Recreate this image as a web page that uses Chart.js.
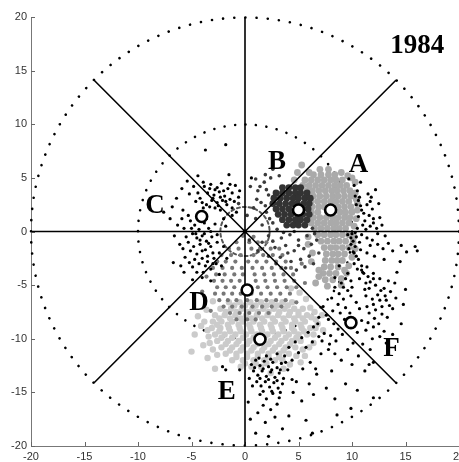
<!DOCTYPE html>
<html>
<head>
<meta charset="utf-8">
<script src="https://cdn.jsdelivr.net/npm/chart.js@4.4.0/dist/chart.umd.min.js"></script>
<style>
html, body { margin: 0; padding: 0; background: #fff; }
</style>
</head>
<body>
<canvas id="graph" width="459" height="462"></canvas>
<script>
// tick labels
const xTicks = [-20, -15, -10, -5, 0, 5, 10, 15, 20];
const yTicks = [-20, -15, -10, -5, 0, 5, 10, 15, 20];

// dotted reference rings and the sector lines
const ringRadii = [2.3, 10, 20];
const ringDots = [26, 64, 120];
const spokes = [[-20, 0, 20, 0], [0, -20, 0, 20], [-14.1, 14.1, 14.1, -14.1], [-14.1, -14.1, 14.1, 14.1]];

// text labels
const labelText = ['1984', 'A', 'B', 'C', 'D', 'E', 'F'];
const labelX = [16.1, 10.6, 3.0, -8.4, -4.3, -1.7, 13.7];
const labelY = [17.3, 6.2, 6.5, 2.4, -6.7, -15.0, -11.0];

// cluster centres (open circles)
const centroids = [[8.0, 2.0], [5.0, 2.0], [-4.05, 1.4], [0.2, -5.45], [1.4, -10.05], [9.9, -8.5]];

// black points, cluster C
const clusterC = [
  [-3.8,4.2],[-3.2,4.4],[-2.6,4.1],[-2.2,4.5],[-1.6,4.0],[-1.2,3.6],[-3.5,3.6],[-2.9,3.4],[-2.4,3.7],[-1.9,3.3],
  [-1.4,3.0],[-3.1,2.9],[-2.6,2.7],[-2.1,2.9],[-1.7,2.5],[-3.6,2.5],[-4.2,3.1],[-4.6,2.8],[-2.8,2.2],[-0.9,4.3],
  [-0.5,3.8],[-1.0,2.8],[-2.3,2.0],[-3.9,2.2],
  [-3.3,4.0],[-2.8,3.9],[-2.0,3.8],[-1.4,4.4],[-3.0,3.1],[-2.3,3.2],[-1.8,2.8],[-2.5,2.4],[-3.3,2.3],[-4.0,2.7],
  [-1.2,2.2],[-0.6,3.2],[-4.4,3.6],[-3.9,4.6],
  [-5.1,1.0],[-4.7,0.6],[-4.3,0.2],[-3.8,0.8],[-3.4,0.3],[-4.9,-0.2],[-4.5,-0.6],[-4.0,-0.4],[-3.6,-0.9],[-3.1,-0.5],
  [-5.3,-1.0],[-4.8,-1.4],[-4.2,-1.2],[-3.7,-1.7],[-3.2,-1.4],[-4.5,-2.1],[-4.0,-2.5],[-3.5,-2.3],[-3.0,-2.0],[-4.3,-3.0],
  [-3.7,-3.2],[-3.2,-3.5],[-2.7,-3.0],[-5.6,-2.4],[-2.6,-1.0],[-2.8,0.7],[-5.7,0.3],[-6.1,-1.2],
  [-5.0,0.3],[-4.6,-0.2],[-4.2,-0.8],[-3.8,-0.2],[-3.4,-1.1],[-5.1,-1.8],[-4.7,-2.6],[-4.0,-1.8],[-3.5,-2.8],[-3.0,-3.0],
  [-4.9,-3.3],[-3.9,-3.8],[-2.9,-2.5],[-3.6,1.2],[-2.6,-0.3],[-5.5,-0.5],[-4.3,1.1],[-5.3,1.5],[-2.4,-2.0],[-2.2,-3.2],
  [-4.5,-3.8],[-3.2,0.0],
  [-5.8,-1.6],[-6.3,0.6],[-5.9,1.2],[-6.0,-3.2],[-5.2,-2.9],[-4.0,-4.3],[-3.2,-4.6],[-2.0,-1.4],[-1.8,0.5],[-0.8,1.8],
  [-6.8,2.3],[-5.2,3.5],[-5.9,4.0],[-4.8,4.2],
  [-6.4,3.1],[-7.0,1.2],[-6.6,-0.4],[-6.7,-2.9],[-5.7,-3.8],[-4.9,-4.5],[-2.4,-4.0],[-1.7,-2.5],[-2.0,1.2],[-1.2,1.5],
  [-5.4,4.7],[-4.4,5.2],[-7.6,1.8],[-5.8,2.0],[-1.5,5.3],[0.6,5.0],[-3.7,7.6],[-1.8,8.1]
];

// black points, cluster F
const clusterF = [
  [9.6,-0.3],[9.9,-0.6],[10.1,-0.9],[10.4,-0.5],[9.9,-1.2],[10.3,-1.4],[9.7,-1.6],[10.7,-1.0],[10.2,-2.0],[10.6,-2.6],
  [10.9,-3.2],[11.1,-3.9],[10.7,-4.4],[11.3,-4.8],[10.5,0.3],[11.0,0.6],[10.0,-0.2],[10.3,-0.1],
  [10.2,4.3],[10.5,3.8],[10.7,3.2],[10.4,2.5],[10.9,2.0],[10.6,1.4],[11.2,1.0],[11.5,3.5],[11.7,2.8],[11.9,2.1],
  [11.6,1.5],[12.0,0.8],[12.3,0.3],[9.7,4.9],[10.8,4.6],[12.2,3.9],[12.6,1.3],[11.3,0.2],
  [10.3,3.3],[10.6,2.9],[10.8,2.4],[11.1,1.7],[11.4,2.5],[11.8,3.2],[12.0,1.2],[11.7,0.5],[10.9,-0.3],[11.4,-0.6],
  [11.7,-1.3],[12.4,-0.2],[12.8,0.6],[12.5,2.6],
  [12.4,-1.2],[12.9,-1.6],[13.4,-1.1],[13.8,-1.8],[14.6,-1.3],[15.1,-1.9],[15.9,-1.4],[16.1,-1.8],[13.1,-0.4],[11.9,-0.8],
  [11.0,-3.8],[11.5,-4.2],[12.0,-3.9],[11.7,-4.7],[12.2,-5.0],[11.2,-5.4],[12.6,-4.4],[13.0,-5.3],[12.4,-5.9],[11.9,-6.3],
  [11.3,-6.0],[13.2,-6.4],[13.6,-5.6],[14.0,-4.8],[14.2,-3.8],[12.8,-7.0],[12.2,-7.3],[11.6,-7.6],[13.8,-7.2],[13.3,-8.0],
  [12.5,-8.6],[12.0,-8.9],[11.3,-9.2],[10.9,-8.3],[13.0,-9.3],[8.4,-5.2],[8.8,-5.8],[9.2,-6.3],[8.7,-6.8],[9.6,-5.5],
  [9.9,-6.0],[9.4,-7.1],[9.8,-7.6],[8.2,-7.4],[7.8,-8.2],[8.3,-8.6],[8.7,-9.1],[9.1,-9.6],[8.0,-9.7],[8.5,-10.2],
  [8.8,-3.2],[8.4,-4.3],[10.2,-3.0],[9.6,-3.9],[7.3,-7.0],[6.8,-8.6],[7.4,-9.5],[10.5,-9.4],[10.1,-10.4],[11.0,-10.5],
  [11.7,-11.0],[10.6,-11.6],[12.0,-12.2],[11.2,-13.0],[13.2,-10.4],
  [10.1,-1.9],[10.4,-2.3],[10.8,-1.7],[10.9,-3.6],[11.4,-3.3],[10.5,-3.5],[11.6,-5.3],[12.0,-4.4],[12.7,-5.5],[13.4,-4.6],
  [13.1,-6.0],[12.0,-6.8],[11.4,-7.0],[12.6,-6.4],[13.5,-6.9],[14.1,-6.2],[12.1,-8.1],[11.5,-8.5],[12.8,-7.7],[9.0,-4.8],
  [9.4,-4.4],[9.9,-4.6],[10.0,-5.2],[9.2,-5.2],[8.9,-7.6],[9.3,-8.2],[10.2,-8.4],[10.7,-7.2],[10.4,-6.6],[8.1,-6.2],
  [7.6,-7.8],[7.2,-10.2],[7.9,-10.5],[8.4,-11.4],[9.6,-11.0],[10.0,-12.4],[11.6,-12.4],[11.9,-10.0],[12.6,-9.8],[13.8,-9.6],
  [14.6,-8.6],[14.8,-6.8],[15.0,-5.4],[14.5,-2.8],[13.0,-2.6],[12.1,-2.3],[11.4,-2.0],[6.6,-12.8],[4.8,-14.0],[6.0,-14.2],
  [4.1,-10.8],[4.7,-10.3],[5.3,-9.9],[5.9,-9.4],[6.4,-8.9],[6.9,-8.0],[5.0,-11.3],[5.7,-10.8],[6.3,-10.3],[6.9,-9.8],
  [3.7,-11.6],[4.4,-12.0],[6.1,-12.2],[7.1,-11.4],[7.8,-11.0],[5.4,-12.8],[6.7,-13.3],[9.0,-12.0],[8.1,-13.0],
  [0.6,-12.4],[1.0,-12.0],[1.4,-12.5],[1.8,-12.1],[2.2,-12.6],[2.6,-12.2],[3.0,-12.7],[3.4,-12.3],[0.8,-13.0],[1.2,-13.4],
  [1.6,-13.0],[2.0,-13.5],[2.4,-13.1],[2.8,-13.6],[3.2,-13.2],[3.6,-13.7],[1.1,-14.0],[1.5,-14.4],[1.9,-14.0],[2.3,-14.5],
  [2.7,-14.1],[3.1,-14.6],[3.5,-14.2],[0.4,-13.7],[4.0,-12.9],[2.0,-11.6],[3.0,-11.4],[4.4,-13.8],
  [0.9,-12.7],[1.7,-12.8],[2.5,-12.9],[3.3,-12.9],[1.4,-13.7],[2.2,-13.8],[3.0,-13.9],[1.3,-11.8],[2.4,-11.9],[3.8,-12.2],
  [0.7,-14.4],[1.7,-14.9],[2.5,-14.9],[3.3,-15.0],
  [1.4,-15.2],[2.0,-15.6],[2.6,-15.1],[3.2,-15.5],[1.7,-16.2],[2.4,-16.6],[3.0,-16.1],[1.2,-16.9],[2.8,-17.3],[1.9,-17.8],
  [1.0,-18.8],[2.2,-19.1],[4.5,-15.0],[5.3,-15.8],[4.1,-17.2],[6.4,-15.2],[7.6,-14.6],[8.4,-15.6],[5.7,-17.6],[6.3,-18.8],
  [9.4,-14.2],[10.5,-14.8],[3.5,-18.4],[0.3,-15.9],[0.5,-17.5],[12.0,-15.5],[9.9,-16.5],[8.6,-17.1],
  [-2.1,-12.6],[-1.8,-12.9],[-0.5,-12.9]
];

// dark grey core of cluster B
const clusterB = [
  [3.5,4.1],[4.1,4.1],[4.7,4.1],[5.2,4.1],
  [2.9,3.6],[3.5,3.6],[4.1,3.6],[4.7,3.6],[5.2,3.6],[5.8,3.6],
  [2.7,3.1],[3.3,3.1],[3.9,3.1],[4.5,3.1],[5.0,3.1],[5.6,3.1],[6.1,3.1],
  [2.6,2.6],[3.2,2.6],[3.8,2.6],[4.4,2.6],[4.9,2.6],[5.5,2.6],[6.0,2.6],
  [2.9,2.1],[3.5,2.1],[4.1,2.1],[5.4,2.1],[5.9,2.1],
  [3.1,1.6],[3.7,1.6],[4.3,1.6],[4.9,1.6],[5.4,1.6],[6.0,1.6],
  [3.5,1.1],[4.1,1.1],[4.7,1.1],[5.2,1.1],[5.8,1.1],
  [3.9,0.6],[4.5,0.6],[5.0,0.6],[5.6,0.6]
];

// dark grey spread of cluster B
const clusterBSpread = [
  [0.5,4.2],[1.2,3.8],[1.8,4.6],[2.2,3.4],[1.5,2.7],[0.8,2.2],[2.4,5.0],[3.2,5.2],[1.0,1.2],[2.0,1.8],
  [2.6,0.8],[3.0,0.2],[2.2,-0.4],[3.4,-0.6],[4.2,-0.3],[5.0,-0.8],[5.8,-0.4],[6.3,0.3],[1.6,-1.0],[2.8,-1.5],
  [3.8,-1.3],[4.6,-1.8],[5.5,-1.6],[6.2,-1.2],[2.2,-2.3],[3.3,-2.4],[4.3,-2.8],[5.2,-2.6],[6.0,-2.3],[3.8,-3.4],
  [4.8,-3.6],[6.4,-3.0],[0.4,-0.8],[1.2,-1.8],[-0.6,2.6],[0.2,1.5],[6.7,-0.8],[6.9,-2.0],[2.6,5.8],
  [1.4,4.2],[2.0,3.9],[1.1,3.0],[1.9,2.4],[2.3,1.2],[1.6,0.6],[3.6,-0.1],[4.6,0.0],[2.6,-0.9],[4.0,-2.0],
  [5.0,-1.3],[2.9,-3.0],[5.6,-3.3],[6.5,-0.2],[1.0,4.9],[1.9,5.3]
];

// light grey, cluster A
const clusterA = [
  [6.4,5.3],[7.1,5.3],[7.8,5.3],[8.4,5.3],
  [5.6,4.8],[6.2,4.8],[6.8,4.8],[7.4,4.8],[8.0,4.8],[8.5,4.8],[9.1,4.8],
  [5.4,4.3],[6.0,4.3],[6.6,4.3],[7.2,4.3],[7.8,4.3],[8.4,4.3],[8.9,4.3],[9.5,4.3],
  [6.3,3.8],[6.9,3.8],[7.5,3.8],[8.1,3.8],[8.6,3.8],[9.2,3.8],[9.8,3.8],
  [6.4,3.3],[7.0,3.3],[7.6,3.3],[8.2,3.3],[8.7,3.3],[9.3,3.3],[9.9,3.3],
  [6.2,2.8],[6.8,2.8],[7.4,2.8],[8.0,2.8],[8.5,2.8],[9.1,2.8],[9.7,2.8],
  [6.3,2.3],[6.9,2.3],[7.4,2.3],[8.7,2.3],[9.3,2.3],[9.9,2.3],
  [6.2,1.8],[6.8,1.8],[8.9,1.8],[9.4,1.8],[10.0,1.8],
  [6.4,1.3],[7.0,1.3],[7.6,1.3],[8.2,1.3],[8.7,1.3],[9.3,1.3],[9.8,1.3],
  [6.2,0.8],[6.8,0.8],[7.4,0.8],[8.0,0.8],[8.5,0.8],[9.1,0.8],[9.7,0.8],
  [6.5,0.3],[7.1,0.3],[7.7,0.3],[8.3,0.3],[8.8,0.3],[9.4,0.3],
  [6.8,-0.3],[7.4,-0.3],[8.0,-0.3],[8.5,-0.3],[9.1,-0.3],[9.7,-0.3],
  [7.1,-0.9],[7.7,-0.9],[8.3,-0.9],[8.8,-0.9],[9.4,-0.9],
  [7.4,-1.5],[8.0,-1.5],[8.5,-1.5],[9.1,-1.5],[9.7,-1.5],
  [7.6,-2.1],[8.2,-2.1],[8.7,-2.1],[9.3,-2.1],
  [7.5,-2.7],[8.1,-2.7],[8.6,-2.7],[9.1,-2.7],
  [7.4,-3.3],[8.0,-3.3],[8.7,-3.3],
  [7.3,-3.9],[7.9,-3.9],[8.5,-3.9],
  [7.5,-4.5],[8.2,-4.5],[7.7,-5.1],
  [10.3,3.6],[10.4,3.0],[10.5,2.0],[10.4,1.2],[10.2,0.5],[10.2,-0.5],[10.3,-1.6],[10.0,-2.4],[9.7,-3.2],[9.3,-3.6],
  [5.8,3.8],[5.7,3.2],[5.8,2.6],[5.9,-1.2],[6.2,-2.8],[6.9,-4.2],[9.0,-4.4],[10.0,5.0],[9.6,5.2],[9.0,5.5],
  [7.0,5.8],[7.8,5.8],[6.0,5.5],
  [4.9,5.5],[5.3,6.2],[4.6,4.8],[10.5,2.6],[10.3,4.6],[5.9,-0.5],[6.3,-2.0],[10.1,-1.0],[6.9,-3.6],[9.5,-3.9],
  [6.6,-4.8],[9.0,-5.0]
];

// medium grey, cluster D
const clusterD = [
  [-0.8,-1.0],[0.4,-1.0],[1.2,-1.0],[2.0,-1.0],
  [-1.5,-1.6],[-0.6,-1.6],[0.6,-1.6],[1.4,-1.6],[2.4,-1.6],[3.2,-1.6],
  [-2.2,-2.2],[-1.3,-2.2],[-0.4,-2.2],[0.8,-2.2],[1.7,-2.2],[2.6,-2.2],[3.5,-2.2],
  [-2.6,-2.8],[-1.8,-2.8],[-0.9,-2.8],[0.3,-2.8],[1.1,-2.8],[2.0,-2.8],[2.9,-2.8],[3.8,-2.8],
  [-3.0,-3.4],[-2.1,-3.4],[-1.2,-3.4],[-0.3,-3.4],[0.7,-3.4],[1.6,-3.4],[2.5,-3.4],[3.4,-3.4],[4.3,-3.4],
  [-2.7,-4.0],[-1.9,-4.0],[-1.0,-4.0],[-0.2,-4.0],[0.9,-4.0],[1.8,-4.0],[2.7,-4.0],[3.6,-4.0],[4.5,-4.0],
  [-2.9,-4.6],[-2.1,-4.6],[-1.3,-4.6],[-0.5,-4.6],[1.0,-4.6],[1.9,-4.6],[2.8,-4.6],[3.7,-4.6],[4.6,-4.6],
  [-2.6,-5.2],[-1.8,-5.2],[-1.0,-5.2],[1.2,-5.2],[2.1,-5.2],[3.0,-5.2],[3.9,-5.2],[4.8,-5.2],
  [-2.8,-5.8],[-2.0,-5.8],[-1.2,-5.8],[-0.4,-5.8],[0.6,-5.8],[1.5,-5.8],[2.4,-5.8],[3.3,-5.8],[4.2,-5.8],
  [-2.4,-6.4],[-1.6,-6.4],[-0.8,-6.4],[0.2,-6.4],[1.1,-6.4],[2.0,-6.4],[2.9,-6.4],[3.8,-6.4],
  [-2.0,-7.0],[-1.2,-7.0],[-0.3,-7.0],[0.7,-7.0],[1.6,-7.0],[2.5,-7.0],[3.4,-7.0],
  [-1.4,-7.6],[-0.5,-7.6],[0.4,-7.6],[1.3,-7.6],[2.2,-7.6],
  [-0.8,-8.2],[0.2,-8.2],[1.0,-8.2],
  [-3.6,-4.2],[-4.0,-5.6],[5.3,-3.0],[5.6,-4.8],[-0.2,-0.4],[0.8,-0.5],[4.8,-6.6],[-3.2,-7.4]
];

// palest grey, cluster E
const clusterE = [
  [-1.5,-6.6],[-0.5,-6.6],[0.5,-6.6],[1.5,-6.6],[2.5,-6.6],[3.5,-6.6],[4.4,-6.6],
  [-2.3,-7.2],[-1.3,-7.2],[-0.3,-7.2],[0.7,-7.2],[1.7,-7.2],[2.7,-7.2],[3.7,-7.2],[4.6,-7.2],[5.4,-7.2],
  [-2.8,-7.8],[-1.9,-7.8],[-0.9,-7.8],[0.1,-7.8],[1.1,-7.8],[2.1,-7.8],[3.1,-7.8],[4.1,-7.8],[5.0,-7.8],[5.8,-7.8],
  [-3.0,-8.4],[-2.2,-8.4],[-1.2,-8.4],[-0.2,-8.4],[0.8,-8.4],[1.8,-8.4],[2.8,-8.4],[3.8,-8.4],[4.7,-8.4],[5.6,-8.4],
  [-3.1,-9.0],[-2.3,-9.0],[-1.5,-9.0],[-0.5,-9.0],[0.5,-9.0],[1.5,-9.0],[2.5,-9.0],[3.5,-9.0],[4.4,-9.0],[5.3,-9.0],[6.1,-9.0],
  [-2.8,-9.6],[-1.9,-9.6],[-0.9,-9.6],[0.1,-9.6],[1.1,-9.6],[2.1,-9.6],[3.1,-9.6],[4.1,-9.6],[5.0,-9.6],[5.8,-9.6],
  [-2.6,-10.2],[-1.6,-10.2],[-0.6,-10.2],[0.4,-10.2],[2.4,-10.2],[3.4,-10.2],[4.4,-10.2],[5.2,-10.2],
  [-2.2,-10.8],[-1.2,-10.8],[-0.2,-10.8],[0.8,-10.8],[1.8,-10.8],[2.8,-10.8],[3.8,-10.8],[4.7,-10.8],
  [-1.8,-11.4],[-0.8,-11.4],[0.2,-11.4],[1.2,-11.4],[2.2,-11.4],[3.2,-11.4],[4.1,-11.4],
  [-1.2,-12.0],[-0.2,-12.0],[0.8,-12.0],[1.8,-12.0],[2.8,-12.0],[3.5,-12.0],
  [-0.4,-12.6],[0.6,-12.6],[1.5,-12.6],
  [-1.0,-6.9],[0.0,-6.9],[1.0,-6.9],[2.0,-6.9],[3.0,-6.9],[4.0,-6.9],
  [-1.8,-7.5],[-0.8,-7.5],[0.2,-7.5],[1.2,-7.5],[2.2,-7.5],[3.2,-7.5],[4.2,-7.5],[5.0,-7.5],
  [-2.4,-8.1],[-1.4,-8.1],[-0.4,-8.1],[0.6,-8.1],[1.6,-8.1],[2.6,-8.1],[3.6,-8.1],[4.6,-8.1],[5.4,-8.1],
  [-2.6,-8.7],[-1.6,-8.7],[-0.6,-8.7],[0.4,-8.7],[1.4,-8.7],[2.4,-8.7],[3.4,-8.7],[4.4,-8.7],[5.2,-8.7],
  [-2.4,-9.3],[-1.4,-9.3],[-0.4,-9.3],[0.6,-9.3],[1.6,-9.3],[2.6,-9.3],[3.6,-9.3],[4.6,-9.3],[5.5,-9.3],
  [-2.2,-9.9],[-1.2,-9.9],[-0.2,-9.9],[0.8,-9.9],[1.8,-9.9],[2.8,-9.9],[3.8,-9.9],[4.8,-9.9],
  [-1.8,-10.5],[-0.8,-10.5],[0.2,-10.5],[1.2,-10.5],[2.2,-10.5],[3.2,-10.5],[4.2,-10.5],
  [-1.4,-11.1],[-0.4,-11.1],[0.6,-11.1],[1.6,-11.1],[2.6,-11.1],[3.6,-11.1],
  [-0.8,-11.7],[0.2,-11.7],[1.2,-11.7],[2.2,-11.7],[3.2,-11.7],
  [0.0,-12.3],[1.0,-12.3],[2.0,-12.3],
  [6.4,-9.6],[6.6,-9.0],[6.8,-8.6],[6.2,-8.0],[6.5,-7.5],[6.0,-10.8],[5.4,-11.0],[4.8,-11.6],[5.2,-12.2],[4.2,-12.4],
  [3.6,-12.8],[7.2,-7.8],[7.3,-9.2],[-3.4,-9.8],[-3.3,-10.4],[-3.0,-11.0],[-2.6,-11.5],[-3.8,-8.4],[-3.5,-9.2],
  [-4.1,-8.8],[-4.7,-9.6],[-3.9,-10.6],[-5.0,-11.2],[-3.5,-11.8],[-3.0,-6.5],[6.6,-8.2],[6.4,-10.4],[5.6,-11.6],[-2.8,-12.8],
  [2.4,-13.2],[4.3,-5.3],[5.1,-5.7],[5.7,-6.3],[6.1,-7.1],[-3.6,-7.3],[-4.4,-7.9]
];

const toPts = arr => arr.map(p => ({ x: p[0], y: p[1] }));

const decor = {
  id: 'decor',
  beforeDatasetsDraw(chart) {
    const { ctx, scales: { x, y }, chartArea } = chart;
    const cx = x.getPixelForValue(0), cy = y.getPixelForValue(0);
    ctx.save();
    ringRadii.forEach((r, i) => {
      const rp = x.getPixelForValue(r) - cx;
      const step = 2 * Math.PI * rp / ringDots[i];
      ctx.beginPath();
      ctx.arc(cx, cy, rp, 0, Math.PI * 2);
      ctx.lineCap = 'round';
      if (i === 0) {
        ctx.strokeStyle = '#555';
        ctx.lineWidth = 2;
        ctx.setLineDash([step * 0.5, step * 0.5]);
      } else {
        ctx.strokeStyle = '#000';
        ctx.lineWidth = 2.6;
        ctx.setLineDash([0.01, step - 0.01]);
      }
      ctx.stroke();
    });
    ctx.setLineDash([]);
    // inward tick marks
    ctx.strokeStyle = '#666';
    ctx.lineWidth = 1;
    ctx.lineCap = 'butt';
    ctx.beginPath();
    xTicks.forEach(v => {
      const px = Math.round(x.getPixelForValue(v)) + 0.5;
      ctx.moveTo(px, chartArea.bottom);
      ctx.lineTo(px, chartArea.bottom - 4);
    });
    yTicks.forEach(v => {
      const py = Math.round(y.getPixelForValue(v)) + 0.5;
      ctx.moveTo(chartArea.left, py);
      ctx.lineTo(chartArea.left + 4, py);
    });
    ctx.stroke();
    ctx.restore();
  },
  afterDatasetDraw(chart, args) {
    if (args.index !== 1) return;
    const { ctx, scales: { x, y } } = chart;
    ctx.save();
    ctx.strokeStyle = '#000';
    ctx.lineWidth = 1.6;
    ctx.beginPath();
    spokes.forEach(s => {
      ctx.moveTo(x.getPixelForValue(s[0]), y.getPixelForValue(s[1]));
      ctx.lineTo(x.getPixelForValue(s[2]), y.getPixelForValue(s[3]));
    });
    ctx.stroke();
    ctx.restore();
  },
  afterDraw(chart) {
    const { ctx, scales: { x, y } } = chart;
    ctx.save();
    ctx.fillStyle = '#000';
    ctx.textAlign = 'center';
    ctx.textBaseline = 'middle';
    labelText.forEach((t, i) => {
      ctx.font = 'bold 27px "Liberation Serif", "DejaVu Serif", serif';
      ctx.fillText(t, x.getPixelForValue(labelX[i]), y.getPixelForValue(labelY[i]));
    });
    ctx.restore();
  }
};

const dot = (data, color, r, order) => ({
  data: toPts(data),
  backgroundColor: color,
  borderWidth: 0,
  pointRadius: r,
  pointHoverRadius: r,
  order: order
});

const tickFont = { family: '"Liberation Sans", Arial, sans-serif', size: 11 };

new Chart(document.getElementById('graph'), {
  type: 'scatter',
  data: {
    datasets: [
      {
        data: toPts(centroids),
        backgroundColor: '#fff',
        borderColor: '#000',
        borderWidth: 2.6,
        pointRadius: 5.5,
        order: 0
      },
      dot(clusterC, '#000', 1.6, 1),
      dot(clusterF, '#000', 1.6, 1),
      dot(clusterBSpread, '#3a3a3a', 1.8, 2),
      dot(clusterB, '#333', 3.4, 2),
      dot(clusterA, '#aaa', 3.4, 3),
      dot(clusterD, '#777', 2.1, 4),
      dot(clusterE, '#cbcbcb', 3.2, 5)
    ]
  },
  options: {
    responsive: false,
    animation: false,
    devicePixelRatio: 1,
    layout: { autoPadding: false, padding: { top: 17, right: 0, left: 0, bottom: 0 } },
    plugins: { legend: { display: false }, tooltip: { enabled: false } },
    scales: {
      x: {
        type: 'linear',
        min: -20, max: 20,
        afterBuildTicks: s => { s.ticks = xTicks.map(v => ({ value: v })); },
        afterFit: s => { s.height = 16; s.paddingLeft = 0; s.paddingRight = 0; },
        grid: { display: false, drawTicks: false },
        border: { display: true, color: '#777', width: 1 },
        ticks: { color: '#333', font: tickFont, padding: 4, maxRotation: 0, autoSkip: false }
      },
      y: {
        type: 'linear',
        min: -20, max: 20,
        afterBuildTicks: s => { s.ticks = yTicks.map(v => ({ value: v })); },
        afterFit: s => { s.width = 31; s.paddingTop = 0; s.paddingBottom = 0; },
        grid: { display: false, drawTicks: false },
        border: { display: true, color: '#777', width: 1 },
        ticks: { color: '#333', font: tickFont, padding: 4, autoSkip: false }
      }
    }
  },
  plugins: [decor]
});
</script>
</body>
</html>
